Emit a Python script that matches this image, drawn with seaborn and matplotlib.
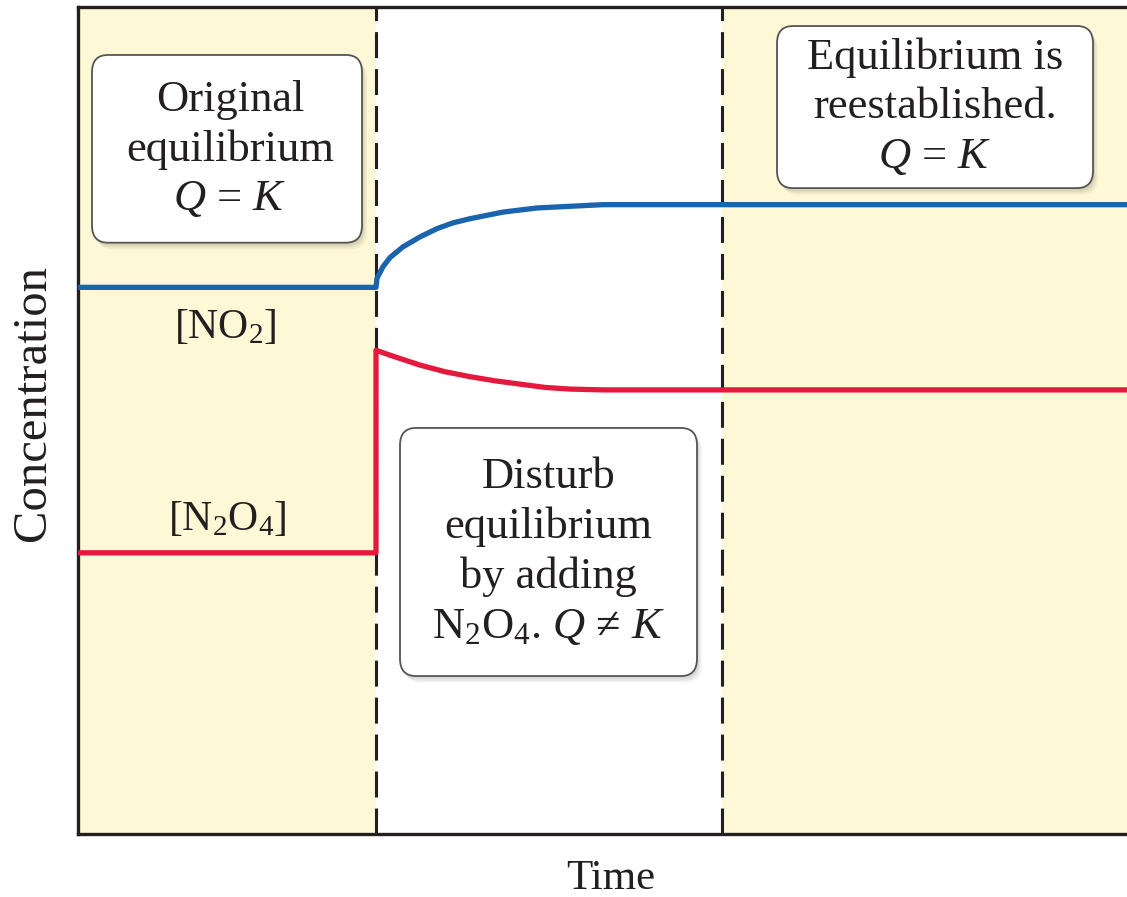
import numpy as np
import pandas as pd
import matplotlib.pyplot as plt
from matplotlib.patches import FancyBboxPatch
import seaborn as sns

# time (arbitrary units) and concentration (arbitrary units)
t_disturb = 29.8
t_equil = 64.4
t_end = 104.9

no2_time = [0, 29.8, 29.9, 30.5, 31.2, 32.5, 34.2, 35.9, 37.5, 39.2, 42.5, 45.9, 49.2, 52.5, 104.9]
no2_conc = [66.1, 66.1, 67.2, 68.6, 69.7, 71.0, 72.2, 73.2, 73.9, 74.4, 75.2, 75.7, 75.9, 76.1, 76.1]

n2o4_time = [0, 29.8, 29.8, 31.2, 34.2, 36.7, 39.2, 41.7, 44.2, 46.7, 49.2, 52.5, 104.9]
n2o4_conc = [34.0, 34.0, 58.5, 57.9, 56.7, 55.9, 55.3, 54.8, 54.4, 54.0, 53.8, 53.7, 53.7]

blue = "#1a63ad"
red = "#e31a3d"
cream = "#fff8d6"
ink = "#231f20"

sns.set_style("white")
plt.rcParams["font.family"] = ["Liberation Serif", "DejaVu Serif"]
plt.rcParams["mathtext.fontset"] = "custom"
plt.rcParams["mathtext.rm"] = "Liberation Serif"
plt.rcParams["mathtext.it"] = "Liberation Serif:italic"

fig = plt.figure(figsize=(11.27, 8.97), dpi=100)
ax = fig.add_axes([78 / 1127, 63 / 897, 1049 / 1127, 827 / 897])

# shaded equilibrium regions
ax.axvspan(0, t_disturb, color=cream, lw=0, zorder=0)
ax.axvspan(t_equil, t_end, color=cream, lw=0, zorder=0)

df_no2 = pd.DataFrame({"t": no2_time, "c": no2_conc})
df_n2o4 = pd.DataFrame({"t": n2o4_time, "c": n2o4_conc})
sns.lineplot(data=df_no2, x="t", y="c", color=blue, lw=3.8, sort=False,
             estimator=None, ax=ax, zorder=3)
sns.lineplot(data=df_n2o4, x="t", y="c", color=red, lw=3.8, sort=False,
             estimator=None, ax=ax, zorder=3)

for xv in [t_disturb, t_equil]:
    ax.axvline(xv, color=ink, lw=2.2, ls=(0, (8.5, 3.6)), zorder=2)

ax.set_xlim(0, t_end)
ax.set_ylim(0, 100)
ax.set_xticks([])
ax.set_yticks([])
for s in ["left", "top", "bottom"]:
    ax.spines[s].set_color(ink)
    ax.spines[s].set_linewidth(2.4)
ax.spines["right"].set_visible(False)

ax.set_xlabel("Time", fontsize=31, color=ink)
ax.set_ylabel("Concentration", fontsize=35, color=ink)
ax.xaxis.set_label_coords(0.508, -0.031)
ax.yaxis.set_label_coords(-0.022, 0.521)

ax.text(14.7, 61.2, r"[NO$_2$]", fontsize=30, ha="center", va="center", zorder=4, color=ink)
ax.text(14.9, 38.0, r"[N$_2$O$_4$]", fontsize=30, ha="center", va="center", zorder=4, color=ink)

boxes = [
    (1.4, 71.5, 27.0, 22.7, 15.2, 82.8, "Original\nequilibrium\n$Q$ = $K$"),
    (69.9, 78.1, 31.6, 19.6, 85.7, 87.9, "Equilibrium is\nreestablished.\n$Q$ = $K$"),
    (32.2, 19.1, 29.7, 30.0, 47.05, 34.1,
     "Disturb\nequilibrium\nby adding\nN$_2$O$_4$. $Q$ \u2260 $K$"),
]
for x0, y0, w, h, tx, ty, label in boxes:
    for k, a in enumerate([0.06, 0.05, 0.04]):
        sh = FancyBboxPatch((x0 + 0.2 + 0.15 * k, y0 - 0.4 - 0.2 * k), w, h,
                            boxstyle="round,pad=0,rounding_size=1.6",
                            fc="black", ec="none", alpha=a, zorder=4,
                            mutation_aspect=1.3)
        ax.add_patch(sh)
    box = FancyBboxPatch((x0, y0), w, h, boxstyle="round,pad=0,rounding_size=1.6",
                         fc="white", ec="#555555", lw=1.3, zorder=5,
                         mutation_aspect=1.3)
    ax.add_patch(box)
    ax.text(tx, ty, label, fontsize=32, ha="center", va="center",
            linespacing=1.3, zorder=6, color=ink)

fig.savefig("out.png", dpi=100)
